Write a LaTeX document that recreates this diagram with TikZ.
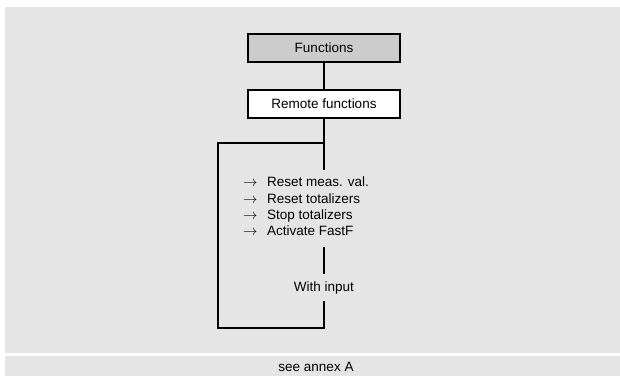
\documentclass[tikz,border=0pt]{standalone}
\usepackage{fontspec}
\setmainfont{Liberation Sans}
\definecolor{bggray}{HTML}{E5E5E5}
\definecolor{boxgray}{HTML}{CCCCCC}
\tikzset{
  fbox/.style={draw=black, line width=2pt, minimum width=152pt, minimum height=28pt, inner sep=0pt, font=\fontsize{13.5}{15}\selectfont},
  conn/.style={draw=black, line width=2pt},
  lbl/.style={inner sep=0pt, font=\fontsize{13.5}{16.3}\selectfont},
}
\newcommand{\arr}{\makebox[24pt][l]{$\rightarrow$}}
\begin{document}
\begin{tikzpicture}[x=1pt,y=-1pt]
\useasboundingbox (0,0) rectangle (620,376);
\fill[white] (0,0) rectangle (620,376);
\fill[bggray] (5,7) rectangle (620,353);
\fill[bggray] (5,356) rectangle (620,376);
\node[fbox, fill=boxgray] (func) at (324,48) {Functions};
\node[fbox, fill=white] (remote) at (324,104) {Remote functions};
\coordinate (split) at (324,143);
\coordinate (ltop) at (324,170);
\coordinate (wtop) at (324,247);
\coordinate (cl) at (218,143);
\coordinate (cb) at (218,328);
\coordinate (cr) at (324,328);
\node[lbl, anchor=west, align=left] (list) at (243,206.5)
  {\arr Reset meas. val.\\
   \arr Reset totalizers\\
   \arr Stop totalizers\\
   \arr Activate FastF};
\node[lbl, inner ysep=7pt] (wi) at (324,287.5) {With input};
\node[lbl] (annex) at (316,367) {see annex A};
\draw[conn] (func.south) -- (remote.north);
\draw[conn] (remote.south) -- (ltop);
\draw[conn] (split) -- (cl) -- (cb) -- (cr) -- (wi.south);
\draw[conn] (wtop) -- (wi.north);
\end{tikzpicture}
\end{document}
